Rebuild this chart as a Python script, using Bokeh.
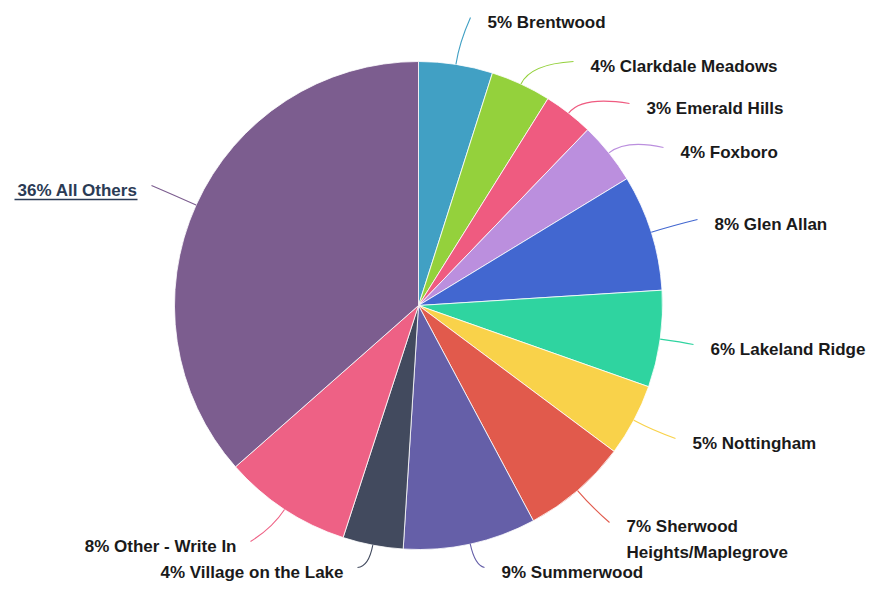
import numpy as np
from bokeh.plotting import figure
from bokeh.models import Range1d, ColumnDataSource
from bokeh.embed import file_html
from bokeh.resources import INLINE
from bokeh.core.properties import value

# ---- data ----
names = ["Brentwood", "Clarkdale Meadows", "Emerald Hills", "Foxboro", "Glen Allan",
         "Lakeland Ridge", "Nottingham", "Sherwood\nHeights/Maplegrove", "Summerwood",
         "Village on the Lake", "Other - Write In", "All Others"]
shares = [4.9, 4.0, 3.3, 4.1, 7.7, 6.4, 4.8, 7.0, 8.8, 4.0, 8.5, 36.5]
pct_labels = ["5%", "4%", "3%", "4%", "8%", "6%", "5%", "7%", "9%", "4%", "8%", "36%"]
colors = ["#41a0c4", "#94d13c", "#ef5b80", "#bb8fde", "#4267d0", "#2fd4a0",
          "#f9d24a", "#e15a4c", "#655fa8", "#424a5e", "#ee6185", "#7c5d8f"]

# ---- layout (picture pixel coordinates of label anchors) ----
W, H = 871, 584
CX, CY, R = 418, 305, 244
label_pos = [(487, 22, "left"), (590, 66, "left"), (646, 108, "left"), (680, 152, "left"),
             (714, 224, "left"), (710, 349, "left"), (692, 443, "left"), (626, 539, "left"),
             (501, 572, "left"), (343, 572, "right"), (236, 546, "right"), (137, 190, "right")]

def py(y):
    return H - y

p = figure(width=W, height=H, output_backend="svg", toolbar_location=None,
           x_range=Range1d(0, W), y_range=Range1d(0, H),
           min_border=0, outline_line_color=None)
p.axis.visible = False
p.grid.visible = False

fr = np.array(shares) / sum(shares)
cum = np.concatenate([[0], np.cumsum(fr)])
start = np.pi / 2 - 2 * np.pi * cum[:-1]
end = np.pi / 2 - 2 * np.pi * cum[1:]

src = ColumnDataSource(dict(start=start, end=end, color=colors))
p.wedge(x=CX, y=py(CY), radius=R, start_angle="start", end_angle="end",
        direction="clock", fill_color="color", line_color="white", line_width=0.8,
        source=src)

# leader lines and labels
mid = 2 * np.pi * (cum[:-1] + cum[1:]) / 2  # clockwise from top
x0 = CX + R * np.sin(mid)
y0 = CY - R * np.cos(mid)
cxs = CX + (R + 22) * np.sin(mid)
cys = CY - (R + 22) * np.cos(mid)
lx = np.array([l[0] for l in label_pos], dtype=float)
ly = np.array([l[1] for l in label_pos], dtype=float)
aligns = [l[2] for l in label_pos]
ex = np.where(np.array(aligns) == "left", lx - 17, lx + 14)
ey = ly - 5
ey[7] = ly[7] - 17

p.quadratic(x0=x0, y0=[py(v) for v in y0], x1=ex, y1=[py(v) for v in ey],
            cx=cxs, cy=[py(v) for v in cys], line_color=colors, line_width=1.1)

texts = [f"{pc} {n}" for pc, n in zip(pct_labels, names)]
tcolors = ["#1a1a1a"] * 11 + ["#2b3b55"]
tsrc = ColumnDataSource(dict(x=lx, y=[py(v) for v in ly], text=texts, align=aligns, color=tcolors))
p.text(x="x", y="y", text="text", text_align="align", text_baseline="middle",
       text_color="color", text_font=value("Liberation Sans"), text_font_style="bold",
       text_font_size="17px", text_line_height=1.4, source=tsrc)

# underline for the "All Others" label
p.segment(x0=[14], y0=[py(199)], x1=[lx[11]], y1=[py(199)], line_color="#2b3b55", line_width=1.5)

open("out.html", "w").write(file_html(p, INLINE))
